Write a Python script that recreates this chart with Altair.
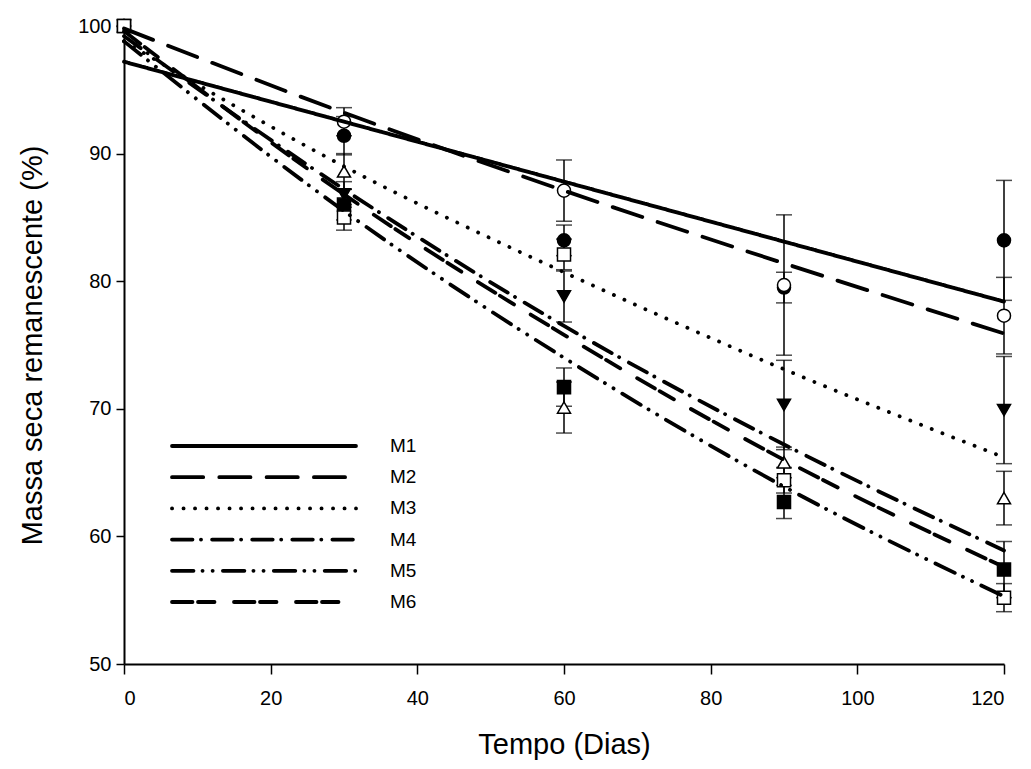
import altair as alt
import pandas as pd

series = ["M1", "M2", "M3", "M4", "M5", "M6"]
days = [0, 30, 60, 90, 120]

# observed means (%)
m1 = [100, 91.4, 83.2, 79.5, 83.2]
m2 = [100, 92.5, 87.1, 79.7, 77.3]
m3 = [100, 86.8, 78.8, 70.3, 69.9]
m4 = [100, 88.6, 70.1, 65.8, 63.0]
m5 = [100, 86.0, 71.7, 62.7, 57.4]
m6 = [100, 85.0, 82.1, 64.4, 55.2]

# error (half bar length)
e1 = [0, 1.5, 1.2, 1.2, 4.7]
e2 = [0, 1.1, 2.4, 5.5, 3.0]
e3 = [0, 1.0, 2.0, 3.5, 4.2]
e4 = [0, 1.4, 2.0, 1.2, 2.1]
e5 = [0, 1.2, 1.5, 1.3, 2.2]
e6 = [0, 1.0, 1.2, 1.0, 1.1]

# fitted curves read at the same days
f1 = [97.2, 92.5, 87.8, 83.1, 78.4]
f2 = [99.8, 93.2, 87.1, 81.4, 75.9]
f3 = [98.8, 89.0, 80.7, 73.1, 66.2]
f4 = [99.2, 87.2, 76.5, 67.2, 58.9]
f5 = [98.8, 85.5, 74.0, 63.9, 55.3]
f6 = [99.6, 86.8, 75.8, 66.0, 57.6]

means = [m1, m2, m3, m4, m5, m6]
errs = [e1, e2, e3, e4, e5, e6]
fits = [f1, f2, f3, f4, f5, f6]

rows = []
for s, mv, ev in zip(series, means, errs):
    for d, v, e in zip(days, mv, ev):
        rows.append({"series": s, "day": d, "value": v, "err": e, "lo": v - e, "hi": v + e})
pts = pd.DataFrame(rows)

frows = []
for s, fv in zip(series, fits):
    for d, v in zip(days, fv):
        frows.append({"series": s, "day": d, "fit": v})
fit_df = pd.DataFrame(frows)

leg_df = pd.DataFrame({"series": series})

dashes = [[1, 0], [31.2, 16.1], [0.1, 11.4], [20.5, 8.45, 0.1, 11.05],
          [21.5, 9, 0.1, 10, 0.1, 10.2], [20.5, 5.5, 16.5, 19.5]]
shapes = ["circle", "circle", "triangle-down", "triangle-up", "square", "square"]
fills = ["black", "white", "black", "white", "black", "white"]

FONT = "Liberation Sans"

xs = alt.X("day:Q", scale=alt.Scale(domain=[0, 120], nice=False),
           axis=alt.Axis(values=[0, 20, 40, 60, 80, 100, 120], title="Tempo (Dias)",
                         titlePadding=22, labelPadding=14, tickSize=10))
ys = alt.Y("value:Q", scale=alt.Scale(domain=[50, 100], nice=False),
           axis=alt.Axis(values=[50, 60, 70, 80, 90, 100], title="Massa seca remanescente (%)",
                         titlePadding=30, labelPadding=5, tickSize=8))

dash_enc = alt.StrokeDash("series:N", scale=alt.Scale(domain=series, range=dashes), legend=None)

base = alt.Chart(pts).transform_filter("datum.err > 0")
bars = base.mark_rule(color="black", strokeWidth=1.5).encode(
    x=xs, y=alt.Y("lo:Q", scale=alt.Scale(domain=[50, 100], nice=False)), y2="hi:Q")
cap_lo = base.mark_tick(color="black", size=16, thickness=1.5, orient="horizontal").encode(
    x="day:Q", y="lo:Q")
cap_hi = base.mark_tick(color="black", size=16, thickness=1.5, orient="horizontal").encode(
    x="day:Q", y="hi:Q")

markers = alt.Chart(pts).mark_point(filled=True, size=170, stroke="black", strokeWidth=1.5, opacity=1).encode(
    x=xs, y=ys,
    shape=alt.Shape("series:N", scale=alt.Scale(domain=series, range=shapes), legend=None),
    fill=alt.Fill("series:N", scale=alt.Scale(domain=series, range=fills), legend=None),
)

lines = alt.Chart(fit_df).mark_line(color="black", strokeWidth=3.8, strokeCap="round",
                                    interpolate="monotone").encode(
    x="day:Q", y=alt.Y("fit:Q"), detail="series:N", strokeDash=dash_enc)

main = alt.layer(bars, cap_lo, cap_hi, markers, lines)

ly = alt.Y("series:N", scale=alt.Scale(type="point", domain=series, range=[420, 576], padding=0), axis=None)
leg_lines = alt.Chart(leg_df).mark_rule(color="black", strokeWidth=3.8, strokeCap="round").encode(
    x=alt.value(48), x2=alt.value(232), y=ly, strokeDash=dash_enc)
leg_text = alt.Chart(leg_df).mark_text(align="left", baseline="middle", font=FONT, fontSize=19,
                                       color="black").encode(
    x=alt.value(266), y=ly, text="series:N")
legend = alt.layer(leg_lines, leg_text)

chart = alt.layer(main, legend).resolve_scale(y="independent").properties(
    width=880, height=638,
    autosize=alt.AutoSizeParams(type="none"),
    padding={"left": 116, "top": 18, "right": 12, "bottom": 100},
).configure_view(stroke=None).configure_axis(
    domainColor="black", domainWidth=2, tickColor="black", tickWidth=1.5,
    grid=False, labelFont=FONT, labelFontSize=20, labelColor="black",
    titleFont=FONT, titleFontSize=29, titleFontWeight="normal", titleColor="black",
)

chart.save("out.html", embed_options={"renderer": "svg", "actions": False})
